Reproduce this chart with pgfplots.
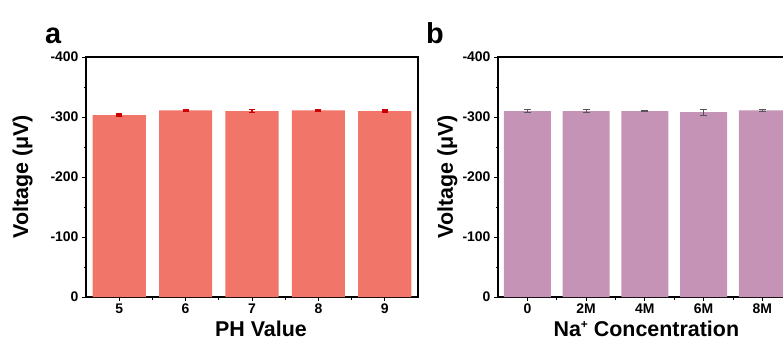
\documentclass[border=0pt]{standalone}
\usepackage{fontspec}
\setmainfont{Liberation Sans}
\usepackage{pgfplots}
\pgfplotsset{compat=1.18}
\definecolor{barA}{HTML}{F2756A}
\definecolor{errA}{HTML}{CC0000}
\definecolor{barB}{HTML}{C493B5}
\definecolor{errB}{HTML}{555555}
\begin{document}
\begin{tikzpicture}[x=1bp,y=1bp]
\pgfplotsset{myax/.style={
  scale only axis, height=240bp,
  ymin=-400, ymax=0, y dir=reverse,
  ytick={-400,-300,-200,-100,0},
  yticklabels={-400,-300,-200,-100,0},
  minor ytick={-350,-250,-150,-50},
  axis line style={line width=1.2bp},
  tick style={line width=1bp, black},
  major tick length=4bp, minor tick length=2.5bp,
  xtick align=inside, ytick align=outside,
  xtick pos=bottom, ytick pos=left,
  /pgf/number format/assume math mode=true,
  ticklabel style={font=\bfseries\fontsize{14}{15}\selectfont},
  xticklabel style={yshift=1bp},
  label style={font=\bfseries\fontsize{21.5}{22}\selectfont},
  ybar, bar width=0.8, bar shift=0pt,
}}
\begin{axis}[myax, at={(86bp,44bp)}, anchor=south west, width=332bp,
  xmin=4.5, xmax=9.5, xtick={5,6,7,8,9},
  xticklabels={5,6,7,8,9},
  minor xtick={5.5,6.5,7.5,8.5},
  xlabel={PH Value},
  xlabel style={at={(axis description cs:0.527,0)}, anchor=base, yshift=-39bp},
  ylabel={Voltage (μV)},
  ylabel style={at={(axis description cs:-0.191,0.5)}, anchor=center},
]
\addplot[fill=barA, draw=none,
  error bars/.cd, y dir=both, y explicit,
  error bar style={line width=1.8bp, draw=errA, color=errA},
  error mark options={rotate=90, mark size=3bp, line width=1.8bp, draw=errA, color=errA}]
  coordinates {(5,-303) +- (0,1.5) (6,-311) +- (0,1.5) (7,-310) +- (0,2.5) (8,-311) +- (0,1.5) (9,-310) +- (0,1.5)};
\end{axis}
\begin{axis}[myax, at={(498bp,44bp)}, anchor=south west, width=293.75bp,
  xmin=-0.5, xmax=4.5, xtick={0,1,2,3,4},
  xticklabels={0,2M,4M,6M,8M},
  minor xtick={0.5,1.5,2.5,3.5},
  xlabel={Na\raisebox{0.62ex}{\fontsize{12}{12}\selectfont +} Concentration},
  xlabel style={at={(axis description cs:0.505,0)}, anchor=base, yshift=-39bp},
  ylabel={Voltage (μV)},
  ylabel style={at={(axis description cs:-0.172,0.5)}, anchor=center},
]
\addplot[fill=barB, draw=none,
  error bars/.cd, y dir=both, y explicit,
  error bar style={line width=1bp, draw=errB, color=errB},
  error mark options={rotate=90, mark size=3.5bp, line width=1bp, draw=errB, color=errB}]
  coordinates {(0,-310) +- (0,2) (1,-310) +- (0,3) (2,-310) +- (0,1.5) (3,-308) +- (0,5) (4,-311) +- (0,2)};
\end{axis}
\node[anchor=base west, inner sep=0pt, font=\bfseries\fontsize{29}{30}\selectfont] at (45,298) {a};
\node[anchor=base west, inner sep=0pt, font=\bfseries\fontsize{29}{30}\selectfont] at (426,298) {b};
\pgfresetboundingbox
\useasboundingbox (0,0) rectangle (783,341);
\end{tikzpicture}
\end{document}
